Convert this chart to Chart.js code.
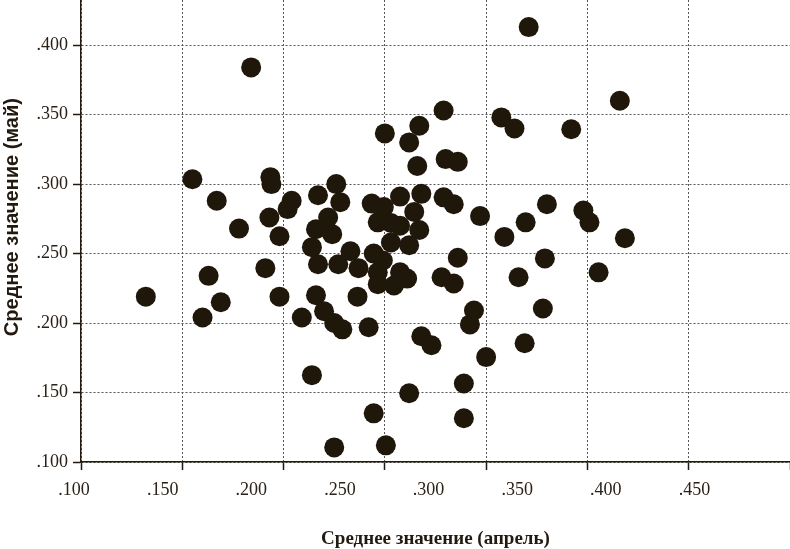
<!DOCTYPE html>
<html>
<head>
<meta charset="utf-8">
<script src="https://cdn.jsdelivr.net/npm/chart.js@4"></script>
<style>
html,body{margin:0;padding:0;background:#fff;}
#wrap{width:790px;height:549px;position:relative;}
</style>
</head>
<body>
<div id="wrap"><canvas id="c"></canvas></div>
<script>
// April average (x) and May average (y) for each player
const aprilAvg = [
  .132,.155,.167,.178,.184,.1935,.194,.193,.198,.204,
  .202,.191,.163,.160,.169,.198,.209,.216,.220,.225,
  .229,.214,.225,.217,.226,.228,.222,.216,.224,.214,
  .217,.227,.233,.237,.2365,.242,.2445,.2505,.2435,.2495,
  .2465,.250,.253,.2445,.249,.2465,.2465,.2545,.2575,.261,
  .2575,.262,.2645,.267,.268,.262,.267,.266,.279,.279,
  .284,.280,.286,.297,.286,.278,.284,.262,.268,.273,
  .289,.289,.294,.292,.300,.3075,.314,.321,.309,.316,
  .3195,.319,.328,.329,.330,.342,.348,.351,.3555,.366,
  .3685,.253,.2575
];
const mayAvg = [
  .219,.3035,.288,.268,.384,.305,.300,.276,.2625,.288,
  .282,.2395,.234,.204,.215,.219,.204,.220,.2085,.200,
  .1955,.1625,.1105,.292,.300,.287,.276,.2675,.264,.2546,
  .2423,.2423,.2517,.2395,.219,.197,.135,.112,.286,.2835,
  .2725,.3365,.258,.250,.245,.2365,.228,.227,.2365,.232,
  .291,.256,.280,.267,.293,.330,.342,.313,.353,.2905,
  .2855,.318,.316,.277,.247,.233,.2285,.1495,.1905,.184,
  .1565,.1315,.209,.199,.1755,.348,.340,.413,.262,.233,
  .2725,.1855,.2105,.2465,.2855,.3395,.281,.2725,.2365,.360,
  .261,.272,.270
];
const xTitle = 'Среднее значение (апрель)';
const yTitle = '\u00A0\u00A0\u00A0\u00A0\u00A0Среднее значение (май)';
const xMin = .100, xMax = .450, xLabelMax = .500, yMin = .100, yMax = .4325, step = .050;

const fmt = v => {
  const k = v / step;
  if (Math.abs(k - Math.round(k)) > 1e-6) return '';
  return '.' + v.toFixed(3).split('.')[1];
};

const ink = '#231a0f';
const gridCol = '#555555';
const points = aprilAvg.map((x, i) => ({x, y: mayAvg[i]}));

new Chart(document.getElementById('c'), {
  type: 'scatter',
  data: {
    datasets: [{
      data: points,
      backgroundColor: '#20170b',
      borderWidth: 0,
      pointRadius: 10,
      pointHoverRadius: 10
    }]
  },
  options: {
    responsive: true,
    maintainAspectRatio: false,
    animation: false,
    layout: {padding: 0, autoPadding: false},
    plugins: {legend: {display: false}, tooltip: {enabled: false}},
    scales: {
      x: {
        type: 'linear', position: 'bottom', weight: 0,
        min: xMin, max: xMax,
        ticks: {display: false, stepSize: step},
        grid: {display: true, color: gridCol, lineWidth: 1, drawTicks: true, tickLength: 8,
               tickColor: ink, tickWidth: 1.5, tickBorderDash: []},
        border: {display: true, color: ink, width: 1.5, dash: [2, 2]},
        afterFit: s => { s.height = 8; s.paddingLeft = 0; s.paddingRight = 0; }
      },
      x2: {
        type: 'linear', position: 'bottom', weight: 1,
        min: xMin, max: xLabelMax,
        grid: {display: false, drawTicks: false},
        border: {display: false},
        ticks: {stepSize: step, labelOffset: -7, padding: 9, color: '#2a2118',
                font: {family: '"Liberation Serif", "DejaVu Serif", serif', size: 18},
                maxRotation: 0, autoSkip: false,
                callback: v => (v > xMax + 1e-6 ? '' : fmt(v))},
        title: {display: true, text: xTitle, color: '#231a0f',
                font: {family: '"Liberation Serif", "DejaVu Serif", serif', size: 19, weight: 'bold', lineHeight: 1},
                padding: {top: 0, bottom: 0}},
        afterFit: s => { s.height = 79; s.paddingLeft = 0; s.paddingRight = 0; }
      },
      y: {
        type: 'linear', position: 'left',
        min: yMin, max: yMax,
        ticks: {stepSize: step, includeBounds: false, padding: 5, color: '#2a2118',
                font: {family: '"Liberation Serif", "DejaVu Serif", serif', size: 18},
                callback: v => fmt(v)},
        grid: {display: true, color: gridCol, lineWidth: 1, drawTicks: true, tickLength: 8,
               tickColor: ink, tickWidth: 1.5, tickBorderDash: []},
        border: {display: true, color: ink, width: 1.5, dash: [2, 2]},
        title: {display: true, text: yTitle, color: '#231a0f',
                font: {family: '"Liberation Sans", Arial, sans-serif', size: 20, weight: 'bold', lineHeight: 1},
                padding: {top: 2, bottom: 0}},
        afterFit: s => { s.width = 81; s.paddingTop = 0; s.paddingBottom = 0; }
      }
    }
  }
});
</script>
</body>
</html>
